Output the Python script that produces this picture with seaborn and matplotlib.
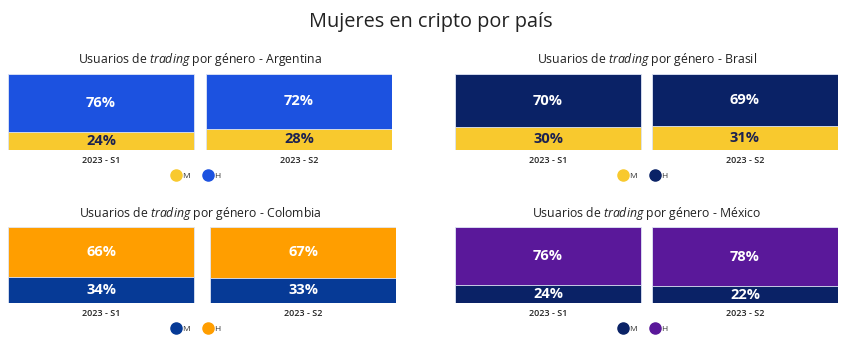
import matplotlib
matplotlib.use("Agg")
import matplotlib.pyplot as plt
from matplotlib.lines import Line2D
import pandas as pd
import seaborn as sns

# Datos: porcentaje de usuarios de trading por género (M = mujeres, H = hombres)
paises = ["Argentina", "Brasil", "Colombia", "México"]
periodos = ["2023 - S1", "2023 - S2"]
mujeres_s1 = [24, 30, 34, 24]
mujeres_s2 = [28, 31, 33, 22]
hombres_s1 = [76, 70, 66, 76]
hombres_s2 = [72, 69, 67, 78]

# Colores por país
color_m = ["#F8C92E", "#F8C92E", "#063A96", "#0A2266"]
color_h = ["#1C52E0", "#0A2266", "#FF9E00", "#5A189A"]
texto_m = ["#1B2150", "#1B2150", "white", "white"]

sns.set_theme(style="white")
plt.rcParams["font.family"] = ["Open Sans", "DejaVu Sans"]
plt.rcParams["mathtext.fontset"] = "custom"
plt.rcParams["mathtext.rm"] = "Open Sans"
plt.rcParams["mathtext.it"] = "Open Sans:italic"

W, H = 850, 338
fig = plt.figure(figsize=(W / 100, H / 100), dpi=100)

# Posición de cada panel en píxeles: (izquierda, derecha, arriba, abajo, centro del título)
paneles = [
    (8, 392, 74, 150, 200),
    (455, 838, 74, 150, 647),
    (8, 396, 227, 303, 200),
    (455, 838, 227, 303, 647),
]
ancho_barra = 186

fig.text(431 / W, 1 - 22 / H, "Mujeres en cripto por país", ha="center", va="center",
         fontsize=14.3, color="#222222")

for i, pais in enumerate(paises):
    x0, x1, y0, y1, xc = paneles[i]
    paso = (x1 - x0) - ancho_barra
    w = ancho_barra / paso
    ax = fig.add_axes([x0 / W, 1 - y1 / H, (x1 - x0) / W, (y1 - y0) / H])

    df = pd.DataFrame({
        "periodo": periodos,
        "M": [mujeres_s1[i], mujeres_s2[i]],
        "H": [hombres_s1[i], hombres_s2[i]],
    })
    df["total"] = df["M"] + df["H"]

    sns.barplot(data=df, x="periodo", y="total", color=color_h[i], width=w,
                saturation=1, ax=ax, edgecolor="#dfe6f5", linewidth=0.6)
    sns.barplot(data=df, x="periodo", y="M", color=color_m[i], width=w,
                saturation=1, ax=ax, edgecolor="#dfe6f5", linewidth=0.6)

    for j, fila in df.iterrows():
        ax.text(j, fila["M"] + fila["H"] / 2, f"{fila['H']}%", ha="center", va="center",
                color="white", fontsize=10.5, fontweight="bold")
        ax.text(j, fila["M"] / 2, f"{fila['M']}%", ha="center", va="center",
                color=texto_m[i], fontsize=10.5, fontweight="bold")

    ax.set_xlim(-w / 2, 1 + w / 2)
    ax.set_ylim(0, 100)
    ax.set_xlabel("")
    ax.set_ylabel("")
    ax.set_yticks([])
    ax.tick_params(axis="x", length=0, pad=4, labelsize=6.5, labelcolor="#222222")
    for lbl in ax.get_xticklabels():
        lbl.set_fontweight("semibold")
    sns.despine(ax=ax, left=True, bottom=True)

    # Subtítulo del panel
    fig.text(xc / W, 1 - (y0 - 14) / H, "Usuarios de $\\it{trading}$ por género - " + pais,
             ha="center", va="center", fontsize=8.8, color="#222222")

    # Leyenda
    handles = [
        Line2D([], [], marker="o", linestyle="", markersize=8, color=color_m[i]),
        Line2D([], [], marker="o", linestyle="", markersize=8, color=color_h[i]),
    ]
    leg = fig.legend(handles, ["M", "H"], ncol=2, loc="center",
                     bbox_to_anchor=((xc - 4) / W, 1 - (y1 + 26) / H),
                     frameon=False, fontsize=6, handletextpad=0.3,
                     columnspacing=1.6, handlelength=1.0)
    for t in leg.get_texts():
        t.set_color("#333333")

fig.savefig("out.png", dpi=100)
